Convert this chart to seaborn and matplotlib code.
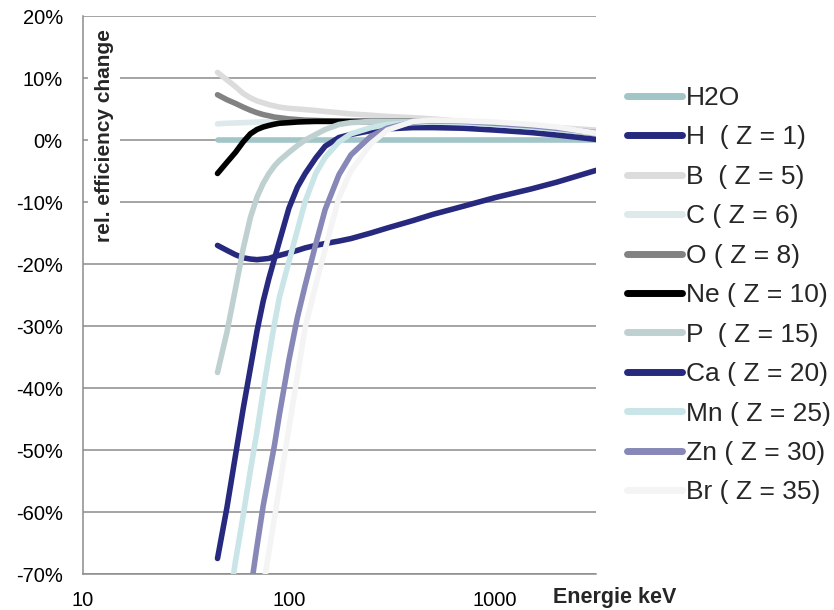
import numpy as np
import pandas as pd
import matplotlib
matplotlib.use("Agg")
import matplotlib.pyplot as plt
from matplotlib.ticker import FixedLocator, FuncFormatter, NullLocator
import seaborn as sns

# Photon energies (keV) at which the relative efficiency change was evaluated
energy = [45, 50, 55, 60, 65, 70, 75, 80, 85, 90, 100, 110, 120, 135, 150,
          175, 200, 250, 300, 400, 500, 700, 1000, 1500, 2000, 3100]

# Relative efficiency change (%) per material; None = below the plotted range
h2o = [0.0] * len(energy)
h_z1 = [-17.0, -17.8, -18.5, -19.0, -19.2, -19.3, -19.2, -19.1, -18.8, -18.6,
        -18.2, -17.8, -17.4, -17.0, -16.7, -16.3, -15.9, -15.0, -14.2, -13.0,
        -12.0, -10.7, -9.3, -7.9, -6.8, -4.9]
b_z5 = [10.9, 9.7, 8.6, 7.5, 6.8, 6.3, 6.0, 5.7, 5.5, 5.3, 5.1, 5.0, 4.9,
        4.75, 4.6, 4.4, 4.2, 4.0, 3.8, 3.6, 3.4, 3.0, 2.6, 2.2, 2.0, 1.6]
c_z6 = [2.6, 2.7, 2.75, 2.8, 2.85, 2.9, 2.95, 2.95, 3.0, 3.0, 3.0, 3.0, 3.0,
        3.0, 3.0, 3.0, 3.0, 3.0, 3.0, 3.0, 2.9, 2.7, 2.4, 2.0, 1.7, 1.1]
o_z8 = [7.3, 6.5, 5.9, 5.3, 4.8, 4.4, 4.1, 3.9, 3.7, 3.6, 3.4, 3.3, 3.2,
        3.15, 3.1, 3.05, 3.0, 3.0, 3.0, 3.0, 2.9, 2.7, 2.4, 2.0, 1.7, 1.1]
ne_z10 = [-5.4, -3.6, -2.0, -0.3, 1.0, 1.7, 2.1, 2.35, 2.55, 2.7, 2.8, 2.9,
          2.95, 3.0, 3.0, 3.0, 3.0, 3.0, 3.0, 3.0, 2.9, 2.7, 2.4, 2.0, 1.7,
          1.1]
p_z15 = [-37.5, -31.0, -24.0, -17.5, -12.5, -9.2, -7.0, -5.4, -4.2, -3.3,
         -2.0, -0.9, 0.0, 0.9, 1.7, 2.5, 2.8, 3.0, 3.0, 3.0, 2.9, 2.7, 2.4,
         2.0, 1.7, 1.1]
ca_z20 = [-67.5, -59.3, -50.9, -43.3, -36.8, -30.8, -26.0, -22.3, -19.2,
          -16.3, -11.0, -7.6, -5.4, -2.9, -1.0, 0.4, 0.9, 1.5, 1.8, 2.0, 2.0,
          1.9, 1.6, 1.2, 0.8, 0.1]
mn_z25 = [None, -77.0, -68.0, -60.5, -53.3, -47.0, -40.5, -34.8, -29.7,
          -25.3, -19.6, -14.5, -9.9, -5.4, -2.8, -0.3, 1.0, 2.0, 2.5, 2.8,
          2.9, 2.8, 2.5, 2.1, 1.7, 1.1]
zn_z30 = [None, None, None, -80.0, -72.8, -65.5, -59.0, -54.0, -49.3, -44.2,
          -35.5, -28.6, -23.4, -16.8, -11.2, -5.6, -2.4, 0.6, 1.9, 2.9, 3.1,
          3.0, 2.7, 2.3, 1.9, 1.2]
br_z35 = [None, None, None, None, -85.0, -78.3, -72.2, -66.4, -61.0, -55.9,
          -46.5, -38.0, -30.2, -23.4, -17.6, -9.3, -5.0, -0.6, 1.6, 3.0, 3.2,
          3.1, 2.9, 2.5, 2.1, 1.1]

labels = ["H2O", "H  ( Z = 1)", "B  ( Z = 5)", "C ( Z = 6)", "O ( Z = 8)",
          "Ne ( Z = 10)", "P  ( Z = 15)", "Ca ( Z = 20)", "Mn ( Z = 25)",
          "Zn ( Z = 30)", "Br ( Z = 35)"]
series = [h2o, h_z1, b_z5, c_z6, o_z8, ne_z10, p_z15, ca_z20, mn_z25,
          zn_z30, br_z35]
colors = ["#a2c5c7", "#27297f", "#dcdcdc", "#dde9eb", "#828282", "#000000",
          "#bfd0d1", "#27297f", "#c9e5e7", "#8787b8", "#f4f4f4"]

y_ticks = [-70, -60, -50, -40, -30, -20, -10, 0, 10, 20]
x_ticks = [10, 100, 1000]

rows = []
for name, vals in zip(labels, series):
    for e, v in zip(energy, vals):
        if v is not None:
            rows.append({"Energie": e, "change": v, "material": name})
df = pd.DataFrame(rows)

sns.set_style("white")
plt.rcParams["font.family"] = ["Liberation Sans", "DejaVu Sans"]

fig = plt.figure(figsize=(8.34, 6.10), dpi=100)
ax = fig.add_axes([83 / 834, 1 - 574 / 610, 513 / 834, 558 / 610])

sns.lineplot(data=df, x="Energie", y="change", hue="material",
             hue_order=labels, palette=dict(zip(labels, colors)),
             linewidth=4.0, solid_capstyle="round", solid_joinstyle="round",
             sort=True, estimator=None, ax=ax, legend=True, zorder=3)

ax.set_xscale("log")
ax.set_xlim(10, 3100)
ax.set_ylim(-70, 20)
ax.xaxis.set_major_locator(FixedLocator(x_ticks))
ax.xaxis.set_minor_locator(NullLocator())
ax.xaxis.set_major_formatter(FuncFormatter(lambda v, p: f"{int(round(v))}"))
ax.yaxis.set_major_locator(FixedLocator(y_ticks))
ax.yaxis.set_major_formatter(FuncFormatter(lambda v, p: f"{int(round(v))}%"))
ax.tick_params(axis="both", length=0, labelsize=14.5, colors="#000000")
ax.tick_params(axis="y", pad=14.5)
ax.tick_params(axis="x", pad=12)
ax.set_xlabel("")
ax.set_ylabel("")

ax.grid(axis="y", color="#8c8c8c", linewidth=1.1, zorder=0)
ax.grid(axis="x", visible=False)
ax.set_axisbelow(True)
for side in ["top", "right"]:
    ax.spines[side].set_visible(False)
for side in ["left", "bottom"]:
    ax.spines[side].set_color("#8c8c8c")
    ax.spines[side].set_linewidth(1.1)

# Axis titles
ax.text(0.041, 0.786, "rel. efficiency change", transform=ax.transAxes,
        rotation=90, ha="center", va="center", fontsize=15, fontweight="bold",
        bbox=dict(facecolor="white", edgecolor="none", pad=5), zorder=2)
fig.text(553 / 834, 1 - 598 / 610, "Energie keV", ha="left", va="center",
         fontsize=15.5, fontweight="bold")

handles, labs = ax.get_legend_handles_labels()
for h in handles:
    h.set_linewidth(5.0)
    h.set_solid_capstyle("round")
ax.legend(handles, labs, loc="upper left",
          bbox_to_anchor=(627 / 834, 1 - 86 / 610),
          bbox_transform=fig.transFigure, frameon=False, fontsize=19,
          handlelength=2.1, handletextpad=0.15, labelspacing=0.585,
          borderpad=0, borderaxespad=0)

fig.savefig("out.png", dpi=100)
